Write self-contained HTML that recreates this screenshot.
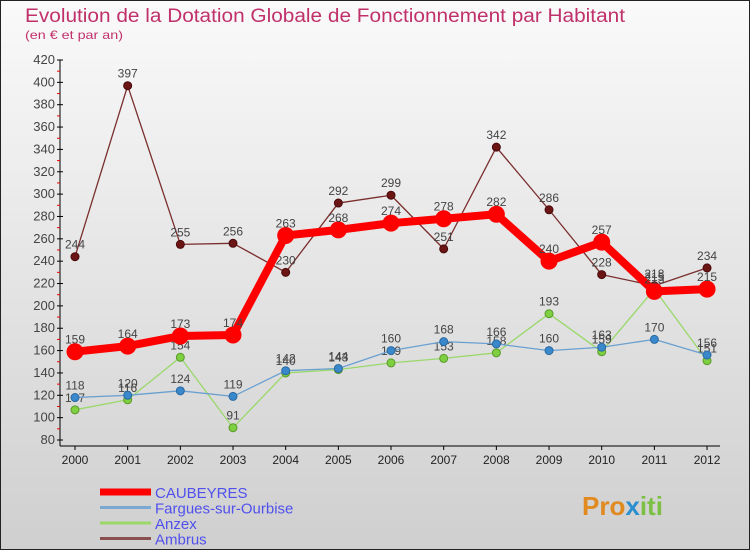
<!DOCTYPE html>
<html><head><meta charset="utf-8"><style>
body{margin:0;width:750px;height:550px;overflow:hidden;font-family:"Liberation Sans",sans-serif}
</style></head><body>
<svg width="750" height="550" xmlns="http://www.w3.org/2000/svg">
<defs><linearGradient id="bg" x1="0" y1="0" x2="0" y2="1"><stop offset="0" stop-color="#fafafa"/><stop offset="1" stop-color="#cfcfcf"/></linearGradient></defs>
<rect x="0" y="0" width="750" height="550" fill="url(#bg)"/>
<rect x="0.5" y="0.5" width="749" height="549" fill="none" stroke="#222"/>
<text x="25" y="22" font-size="19" fill="#c0306a" textLength="600" lengthAdjust="spacingAndGlyphs">Evolution de la Dotation Globale de Fonctionnement par Habitant</text>
<text x="25" y="39" font-size="12" fill="#c0306a" textLength="98" lengthAdjust="spacingAndGlyphs">(en € et par an)</text>
<g id="axes"></g><g id="series"></g><g id="legend"></g>
<text x="582" y="515" font-size="26" font-weight="bold" fill="#e08a20">Pro<tspan fill="#2a8fd0">x</tspan><tspan fill="#7bc043">iti</tspan></text>
</svg>
<script>
const years=["2000","2001","2002","2003","2004","2005","2006","2007","2008","2009","2010","2011","2012"];
const yTicks=[80,100,120,140,160,180,200,220,240,260,280,300,320,340,360,380,400,420];
const caubeyres=[159,164,173,174,263,268,274,278,282,240,257,213,215];
const fargues=[118,120,124,119,142,144,160,168,166,160,163,170,156];
const anzex=[107,116,154,91,140,143,149,153,158,193,159,215,151];
const ambrus=[244,397,255,256,230,292,299,251,342,286,228,218,234];
const NS="http://www.w3.org/2000/svg";
const X=i=>75+i*52.67, Y=v=>440-(v-80)*380/340;
function mk(t,a,p){const e=document.createElementNS(NS,t);for(const k in a)e.setAttribute(k,a[k]);p.appendChild(e);return e;}
const ax=document.getElementById('axes');
const yl=mk('line',{x1:60,y1:60,x2:60,y2:446,stroke:'#000'},ax);


const xl=mk('line',{x1:60,y1:446,x2:720,y2:446,stroke:'#000'},ax);


yTicks.forEach((v,i)=>{
 mk('line',{x1:57,x2:63,y1:Y(v),y2:Y(v),stroke:'#000'},ax);
 if(i<yTicks.length-1) mk('line',{x1:57,x2:60,y1:Y(v+10),y2:Y(v+10),stroke:'#e00'},ax);
 const t=mk('text',{x:55,y:Y(v)+4,'font-size':13,fill:'#444','text-anchor':'end'},ax);
 t.textContent=v;
 
 
});
years.forEach((y,i)=>{
 mk('line',{x1:X(i),x2:X(i),y1:446,y2:450,stroke:'#000'},ax);
 const t=mk('text',{x:X(i),y:464,'font-size':12,fill:'#222','text-anchor':'middle'},ax);
 t.textContent=y;
 
 
});
const sg=document.getElementById('series');
function series(d,name,col,w,r,dot,stroke){
 const g=mk('g',{},sg);
 
 
 mk('polyline',{points:d.map((v,i)=>X(i)+','+Y(v)).join(' '),fill:'none',stroke:col,'stroke-width':w,'stroke-linejoin':'round'},g);
 d.forEach((v,i)=>{
  const c=mk('circle',{cx:X(i),cy:Y(v),r:r,fill:dot,stroke:stroke,'stroke-width':1},g);
  
  
  const t=mk('text',{x:X(i),y:Y(v)-8,'font-size':12,fill:'#444','text-anchor':'middle'},g);
  t.textContent=v;
  
  
 });
}
series(ambrus,'ambrus','#7a2e2e',1.3,4,'#6b1515','#4a0a0a');
series(anzex,'anzex','#9ad86a',1.3,4,'#7ed040','#5a9a2a');
series(fargues,'fargues','#6aa0d0',1.3,4,'#3a88cc','#2a6aa0');
series(caubeyres,'caubeyres','#ff0000',8,8,'#ff0000','#ff0000');
const lg=document.getElementById('legend');
const names=["CAUBEYRES","Fargues-sur-Ourbise","Anzex","Ambrus"];
const cols=["#ff0000","#7aa8d0","#9ad86a","#8a5050"];
const ws=[7,3,3,3];
names.forEach((n,i)=>{
 const yy=492+i*15.5;
 const l=mk('line',{x1:100,x2:151,y1:yy,y2:yy,stroke:cols[i],'stroke-width':ws[i]},lg);
 
 
 const t=mk('text',{x:155,y:yy+6,'font-size':15,fill:'#5050ee'},lg);
 t.textContent=n;
 
 
});
</script>
</body></html>
